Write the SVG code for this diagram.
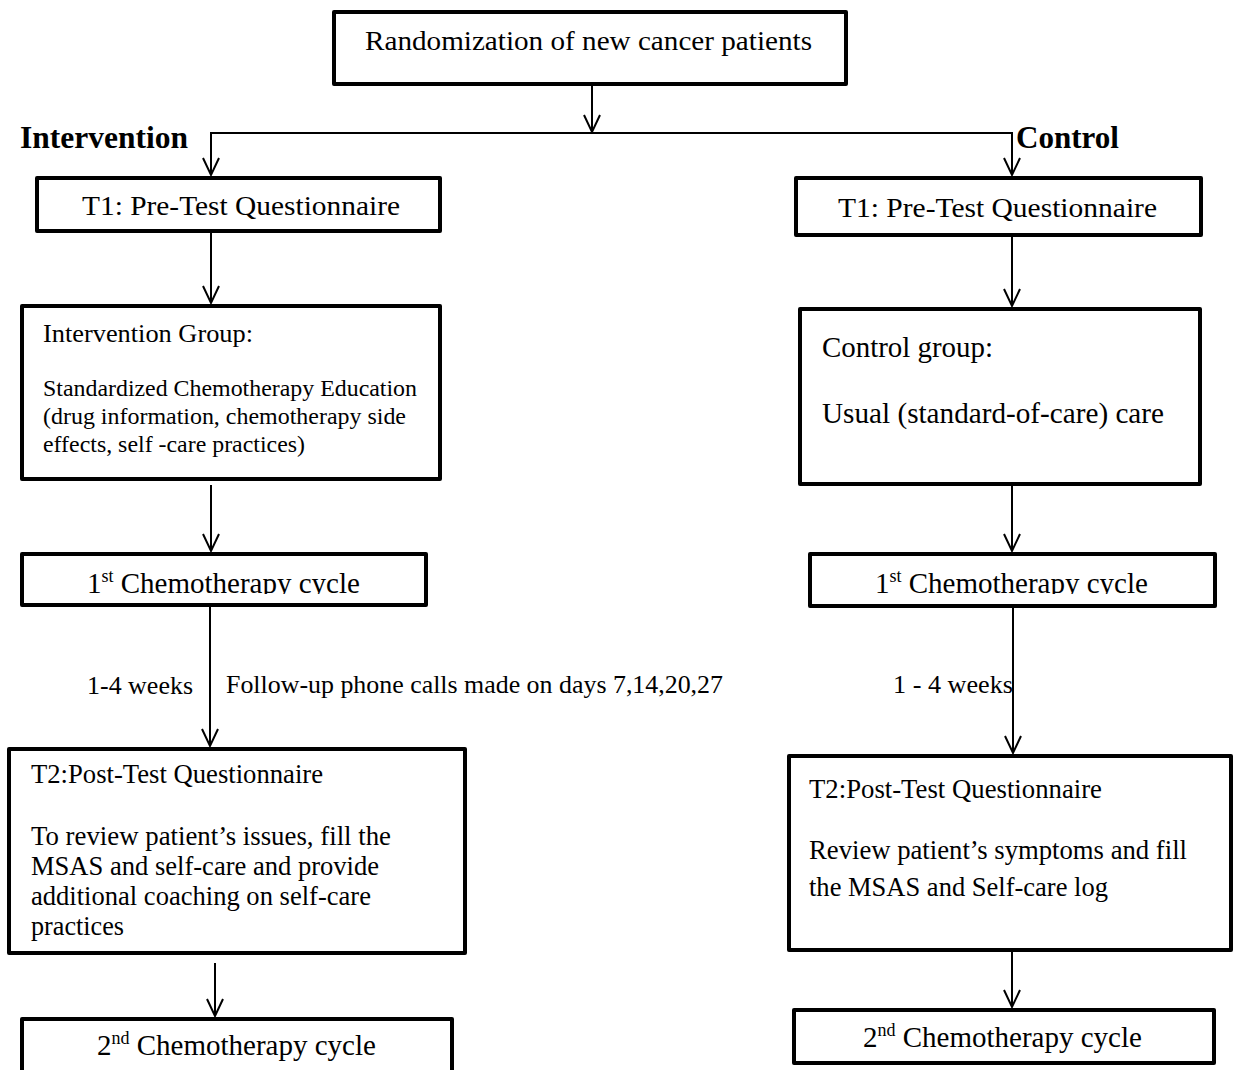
<svg xmlns="http://www.w3.org/2000/svg" width="1240" height="1070" viewBox="0 0 1240 1070">
<style>
.box{fill:#fff;stroke:#000;stroke-width:4;stroke-linejoin:round}
.t{font-family:"Liberation Serif","Times New Roman",serif;fill:#000}
.b{font-weight:bold}
.c{fill:none;stroke:#000;stroke-width:2}
</style>
<defs>
<marker id="ah" markerUnits="userSpaceOnUse" markerWidth="40" markerHeight="40" refX="0" refY="0" orient="auto" overflow="visible">
<path d="M-17,-8 L0,0 L-17,8" fill="none" stroke="#000" stroke-width="2"/>
</marker>
<clipPath id="clipC1"><rect x="0" y="552" width="1240" height="42"/></clipPath>
</defs>
<rect width="1240" height="1070" fill="#fff"/>
<g id="connectors">
<line class="c" x1="592" y1="86" x2="592" y2="132" marker-end="url(#ah)"/>
<line class="c" x1="210" y1="133" x2="1013" y2="133"/>
<line class="c" x1="211" y1="133" x2="211" y2="175" marker-end="url(#ah)"/>
<line class="c" x1="1012" y1="133" x2="1012" y2="175" marker-end="url(#ah)"/>
<line class="c" x1="211" y1="233" x2="211" y2="303" marker-end="url(#ah)"/>
<line class="c" x1="1012" y1="237" x2="1012" y2="306" marker-end="url(#ah)"/>
<line class="c" x1="211" y1="485" x2="211" y2="551" marker-end="url(#ah)"/>
<line class="c" x1="1012" y1="486" x2="1012" y2="551" marker-end="url(#ah)"/>
<line class="c" x1="210" y1="607" x2="210" y2="746" marker-end="url(#ah)"/>
<line class="c" x1="1013" y1="608" x2="1013" y2="753" marker-end="url(#ah)"/>
<line class="c" x1="215" y1="963" x2="215" y2="1016" marker-end="url(#ah)"/>
<line class="c" x1="1012" y1="952" x2="1012" y2="1007" marker-end="url(#ah)"/>
</g>
<g id="randomization">
<rect class="box" x="334" y="12" width="512" height="72"/>
<text class="t" x="365" y="50" font-size="28" textLength="447" lengthAdjust="spacingAndGlyphs">Randomization of new cancer patients</text>
</g>
<g id="label-intervention">
<text class="t b" x="20" y="148" font-size="31" textLength="168" lengthAdjust="spacingAndGlyphs">Intervention</text>
</g>
<g id="label-control">
<text class="t b" x="1016" y="148" font-size="31" textLength="103" lengthAdjust="spacingAndGlyphs">Control</text>
</g>
<g id="t1-left">
<rect class="box" x="37" y="178" width="403" height="53"/>
<text class="t" x="82" y="215" font-size="28" textLength="318" lengthAdjust="spacingAndGlyphs">T1: Pre-Test Questionnaire</text>
</g>
<g id="t1-right">
<rect class="box" x="796" y="178" width="405" height="57"/>
<text class="t" x="838" y="217" font-size="28" textLength="319" lengthAdjust="spacingAndGlyphs">T1: Pre-Test Questionnaire</text>
</g>
<g id="intervention-group">
<rect class="box" x="22" y="306" width="418" height="173"/>
<text class="t" x="43" y="342" font-size="26" textLength="210" lengthAdjust="spacingAndGlyphs">Intervention Group:</text>
<text class="t" x="43" y="396" font-size="23.5" textLength="374" lengthAdjust="spacingAndGlyphs">Standardized Chemotherapy Education</text>
<text class="t" x="43" y="424" font-size="23.5" textLength="363" lengthAdjust="spacingAndGlyphs">(drug information, chemotherapy side</text>
<text class="t" x="43" y="452" font-size="23.5" textLength="262" lengthAdjust="spacingAndGlyphs">effects, self -care practices)</text>
</g>
<g id="control-group">
<rect class="box" x="800" y="309" width="400" height="175"/>
<text class="t" x="822" y="357" font-size="28.5" textLength="171" lengthAdjust="spacingAndGlyphs">Control group:</text>
<text class="t" x="822" y="423" font-size="28.5" textLength="342" lengthAdjust="spacingAndGlyphs">Usual (standard-of-care) care</text>
</g>
<g id="chemo1-left">
<rect class="box" x="22" y="554" width="404" height="51"/>
<text class="t" x="87" y="593" font-size="29" clip-path="url(#clipC1)">1<tspan font-size="18" dy="-11">st</tspan><tspan dy="11"> Chemotherapy cycle</tspan></text>
</g>
<g id="chemo1-right">
<rect class="box" x="810" y="554" width="405" height="52"/>
<text class="t" x="875" y="593" font-size="29" clip-path="url(#clipC1)">1<tspan font-size="18" dy="-11">st</tspan><tspan dy="11"> Chemotherapy cycle</tspan></text>
</g>
<g id="label-weeks-left">
<text class="t" x="87" y="694" font-size="26" textLength="106" lengthAdjust="spacingAndGlyphs">1-4 weeks</text>
</g>
<g id="label-followup">
<text class="t" x="226" y="693" font-size="26" textLength="497" lengthAdjust="spacingAndGlyphs">Follow-up phone calls made on days 7,14,20,27</text>
</g>
<g id="label-weeks-right">
<text class="t" x="893" y="693" font-size="26" textLength="120" lengthAdjust="spacingAndGlyphs">1 - 4 weeks</text>
</g>
<g id="t2-left">
<rect class="box" x="9" y="749" width="456" height="204"/>
<text class="t" x="31" y="783" font-size="26.5" textLength="292" lengthAdjust="spacingAndGlyphs">T2:Post-Test Questionnaire</text>
<text class="t" x="31" y="845" font-size="27" textLength="360" lengthAdjust="spacingAndGlyphs">To review patient’s issues, fill the</text>
<text class="t" x="31" y="875" font-size="27" textLength="348" lengthAdjust="spacingAndGlyphs">MSAS and self-care and provide</text>
<text class="t" x="31" y="905" font-size="27" textLength="340" lengthAdjust="spacingAndGlyphs">additional coaching on self-care</text>
<text class="t" x="31" y="935" font-size="27" textLength="93" lengthAdjust="spacingAndGlyphs">practices</text>
</g>
<g id="t2-right">
<rect class="box" x="789" y="756" width="442" height="194"/>
<text class="t" x="809" y="798" font-size="26.5" textLength="293" lengthAdjust="spacingAndGlyphs">T2:Post-Test Questionnaire</text>
<text class="t" x="809" y="859" font-size="26.5" textLength="378" lengthAdjust="spacingAndGlyphs">Review patient’s symptoms and fill</text>
<text class="t" x="809" y="896" font-size="26.5" textLength="299" lengthAdjust="spacingAndGlyphs">the MSAS and Self-care log</text>
</g>
<g id="chemo2-left">
<rect class="box" x="22" y="1019" width="430" height="70"/>
<text class="t" x="97" y="1055" font-size="29">2<tspan font-size="18" dy="-11">nd</tspan><tspan dy="11"> Chemotherapy cycle</tspan></text>
</g>
<g id="chemo2-right">
<rect class="box" x="794" y="1010" width="420" height="53"/>
<text class="t" x="863" y="1047" font-size="29">2<tspan font-size="18" dy="-11">nd</tspan><tspan dy="11"> Chemotherapy cycle</tspan></text>
</g>
</svg>
